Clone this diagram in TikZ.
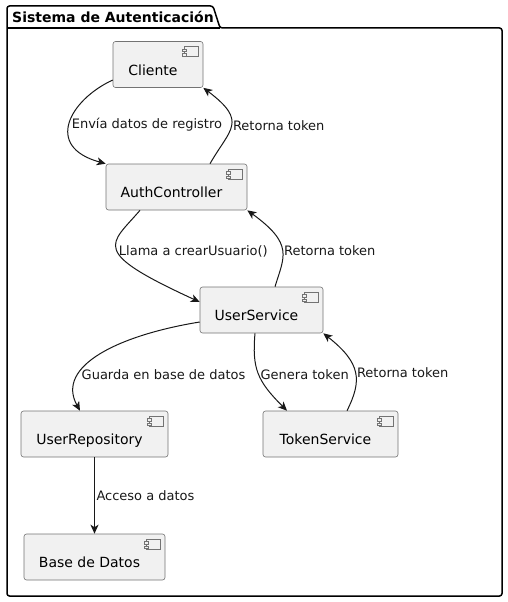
\documentclass[tikz,border=0pt]{standalone}
\usepackage{fontspec}
\setmainfont{DejaVu Sans}
\usetikzlibrary{arrows.meta}
\definecolor{compfill}{HTML}{F1F1F1}
\definecolor{compline}{HTML}{181818}

\begin{document}
\begin{tikzpicture}[x=1pt,y=-1pt,
   comp/.style={draw=black!55,line width=0.6pt,fill=compfill,rounded corners=2.5pt,
     minimum height=46pt,inner sep=0pt,
     path picture={
       \draw[black!55,line width=0.6pt,fill=compfill,sharp corners]
         ([shift={(-19pt,-5pt)}]path picture bounding box.north east) rectangle ++(14pt,-10pt);
       \draw[black!55,line width=0.6pt,fill=compfill,sharp corners]
         ([shift={(-21pt,-7.5pt)}]path picture bounding box.north east) rectangle ++(4pt,-2.5pt);
       \draw[black!55,line width=0.6pt,fill=compfill,sharp corners]
         ([shift={(-21pt,-12pt)}]path picture bounding box.north east) rectangle ++(4pt,-2.5pt);
     }},
   cname/.style={font=\fontsize{14}{16}\selectfont,text height=10pt,text depth=3pt,
     xshift=-5pt,yshift=-7pt},
   conn/.style={draw=compline,line width=1pt,-{Stealth[length=9pt,width=8pt,inset=2.5pt]}},
   elbl/.style={font=\fontsize{13}{15}\selectfont,text height=9.5pt,text depth=3pt,
     inner sep=1.5pt,anchor=west,yshift=-2pt,text=compline},
   pkg/.style={draw=black,line width=1.5pt,rounded corners=2.5pt},
   ptitle/.style={font=\fontsize{14}{16}\selectfont\bfseries,inner sep=2pt}]
   \useasboundingbox (0,0) rectangle (508,602);

   % package frame
   \draw[pkg] (7,6) -- (213,6) -- (220,28) -- (502,28) -- (502,596) -- (7,596) -- cycle;
   \draw[pkg] (7,28) -- (220,28);
   \node[ptitle,anchor=west] (pkgname) at (10,17) {Sistema de Autenticación};

   % components
   \node[comp,minimum width=90pt,label={[cname]center:Cliente}] (cliente) at (158,64.5) {};
   \node[comp,minimum width=141pt,label={[cname]center:AuthController}] (auth) at (176.5,187) {};
   \node[comp,minimum width=123pt,label={[cname]center:UserService}] (usvc) at (261.5,310) {};
   \node[comp,minimum width=147pt,label={[cname]center:UserRepository}] (urepo) at (94.5,434) {};
   \node[comp,minimum width=135pt,label={[cname]center:TokenService}] (tsvc) at (330.5,434) {};
   \node[comp,minimum width=141pt,label={[cname]center:Base de Datos}] (bd) at (94.5,557) {};

   % connectors
   \draw[conn] ([yshift=-15.5pt]cliente.west) .. controls +(-43,20) and +(-62,-17) .. (auth.north west)
      node[elbl,pos=.5] {Envía datos de registro};
   \draw[conn] ([xshift=33.5pt]auth.north) .. controls +(20,-35) and +(45,34) .. (cliente.south east)
      node[elbl,pos=.5] {Retorna token};
   \draw[conn] ([xshift=-36.5pt]auth.south) .. controls +(-30,35) and +(-111,-51) .. ([yshift=8pt]usvc.west)
      node[elbl,pos=.5] {Llama a crearUsuario()};
   \draw[conn] ([xshift=13.5pt]usvc.north) .. controls +(9,-30) and +(47,34) .. (auth.south east)
      node[elbl,pos=.5] {Retorna token};
   \draw[conn] ([yshift=-12pt]usvc.west) .. controls +(-80,13) and +(-25,-45) .. ([xshift=-14.5pt]urepo.north)
      node[elbl,pos=.7] {Guarda en base de datos};
   \draw[conn] ([xshift=-6.5pt]usvc.south) .. controls +(-3,35) and +(-30,-30) .. ([xshift=-43.5pt]tsvc.north)
      node[elbl,pos=.5] {Genera token};
   \draw[conn] ([xshift=16.5pt]tsvc.north) .. controls +(15,-30) and +(38,30) .. (usvc.south east)
      node[elbl,pos=.5] {Retorna token};
   \draw[conn] (urepo) -- (bd) node[elbl,midway] {Acceso a datos};
\end{tikzpicture}
\end{document}
